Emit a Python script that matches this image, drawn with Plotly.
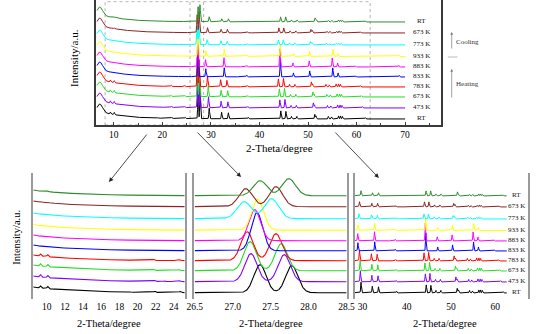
import numpy as np
import plotly.graph_objects as go

# ---------------- data ----------------
LABELS = ["RT", "473 K", "673 K", "783 K", "833 K", "883 K", "933 K", "773 K", "673 K", "RT"]
COLORS = ["#000000", "#8000FF", "#22DD22", "#FF0000", "#0000FF", "#FF00FF",
          "#FFFF00", "#00FFFF", "#8B2323", "#2E8B2E"]
OFFSETS = [6, 17, 28, 38, 48, 58, 68.5, 80, 92, 103]
FWHM = [0.19, 0.19, 0.19, 0.19, 0.18, 0.18, 0.18, 0.22, 0.21, 0.21]

# amorphous low-angle background shared by all patterns
BG_HUMP_POS, BG_HUMP_H, BG_HUMP_FWHM = 7.1, 9.0, 1.4
BG_TAIL_POS, BG_TAIL_H, BG_TAIL_HWHM = 7.0, 6.0, 5.0

POS_RT_H = [9.3, 10.1, 19.1, 21.9, 23.0, 24.7, 27.36, 27.78, 29.65, 32.2, 33.6, 37.7, 44.4, 45.45,
            46.6, 47.7, 51.4, 51.65, 54.2, 54.85, 56.3, 56.7, 57.1, 61.8]
H_RT_H = [2.0, 2.2, 0.6, 1.2, 0.6, 1.2, 28, 27, 10.5, 6.5, 6.0, 1.5, 8.0, 7.5,
          2.5, 2.5, 4.5, 3.0, 2.5, 2.0, 3.0, 3.0, 2.5, 1.2]
POS_473 = [9.3, 10.1, 21.9, 23.0, 24.6, 27.24, 27.68, 29.5, 32.1, 33.5, 37.6, 44.2, 45.25, 46.5,
           47.6, 51.1, 51.35, 54.0, 54.7, 56.1, 56.6, 57.0, 61.2]
H_473 = [2.2, 2.2, 1.0, 0.5, 1.0, 28, 27, 11, 6.5, 6, 1.3, 8, 8.5, 2.5,
         2.5, 5, 3, 2.5, 2, 3, 3, 2.5, 1.2]
POS_673_H = [9.3, 10.1, 21.8, 23.0, 24.6, 27.23, 27.64, 29.45, 32.1, 33.45, 37.6, 44.1, 45.15, 46.4,
             47.5, 51.0, 51.25, 53.9, 54.6, 56.0, 56.5, 56.9, 61.0]
H_673_H = [2.2, 2.2, 1.0, 0.6, 1.0, 29, 27, 10.5, 6.5, 6, 1.2, 8, 8.5, 2.5,
           2.5, 5, 3, 2.5, 2, 3, 3, 2.5, 1.2]
POS_783 = [9.3, 10.1, 21.8, 23.0, 24.6, 27.19, 27.57, 29.3, 32.0, 33.3, 37.5, 43.9, 44.95, 46.2,
           47.3, 50.7, 50.95, 53.7, 54.4, 55.8, 56.3, 56.7, 60.8]
H_783 = [2.0, 2.0, 1.0, 0.7, 1.0, 29, 27, 10.5, 7, 6.5, 1.2, 8, 8.5, 2.5,
         2.5, 5, 3, 2.5, 2, 3, 3, 2.5, 1.2]
POS_833 = [27.32, 28.95, 32.75, 37.4, 44.3, 47.0, 50.35, 55.1, 56.2, 59.9, 68.8]
H_833 = [38, 8, 9, 1.5, 18, 4, 6, 9, 4, 0.8, 1.5]
POS_883 = [27.29, 28.9, 32.7, 37.4, 44.2, 46.9, 50.25, 55.0, 56.1, 59.8, 68.7]
H_883 = [31, 7, 9, 1.3, 18, 4, 6, 9, 4, 0.8, 1.5]
POS_933 = [27.33, 29.0, 32.75, 37.5, 44.3, 47.0, 50.35, 55.15, 56.2, 68.8]
H_933 = [31, 5.5, 7, 1.2, 12, 3, 5, 7, 3, 1.0]
POS_773_C = [27.15, 27.51, 29.2, 32.05, 33.35, 37.6, 43.9, 44.9, 46.2, 47.3, 50.5, 50.8,
             53.8, 54.4, 55.8, 56.3, 56.8]
H_773_C = [17, 20, 5, 4, 3.5, 0.8, 5, 5, 2, 2, 3.5, 2.5, 1.5, 1.5, 1.5, 2, 1.5]
POS_673_C = [9.3, 10.1, 27.17, 27.57, 29.3, 32.1, 33.4, 37.6, 44.0, 45.0, 46.3, 47.5, 50.6, 50.9,
             53.9, 54.5, 55.9, 56.4, 56.8, 60.9]
H_673_C = [0.8, 0.8, 18, 20, 5, 3.5, 3.5, 0.8, 5, 5, 2, 2, 3.5, 2.5, 1.5, 1.5, 1.5, 2, 1.5, 0.8]
POS_RT_C = [10.1, 27.36, 27.74, 29.65, 32.25, 33.6, 37.7, 44.35, 45.4, 46.6, 47.75, 51.45, 51.7,
            54.2, 54.9, 56.3, 56.7, 57.1, 61.8]
H_RT_C = [0.6, 15, 17, 5, 3, 3, 0.7, 5, 5, 2, 2, 4, 2.5, 1.5, 1.5, 2, 2, 1.5, 0.8]

PEAK_POS = [POS_RT_H, POS_473, POS_673_H, POS_783, POS_833, POS_883, POS_933,
            POS_773_C, POS_673_C, POS_RT_C]
PEAK_H = [H_RT_H, H_473, H_673_H, H_783, H_833, H_883, H_933, H_773_C, H_673_C, H_RT_C]

TITLE_X = "2-Theta/degree"
TITLE_Y = "Intensity/a.u."

# ---------------- helpers ----------------
K = 4 * np.log(2)


def pattern(x, i):
    y = BG_HUMP_H * np.exp(-K * ((x - BG_HUMP_POS) / BG_HUMP_FWHM) ** 2)
    y += BG_TAIL_H / (1 + ((x - BG_TAIL_POS) / BG_TAIL_HWHM) ** 2)
    for p, h in zip(PEAK_POS[i], PEAK_H[i]):
        y += h * np.exp(-K * ((x - p) / FWHM[i]) ** 2)
    return y + OFFSETS[i]


W, H = 550, 334
FONT = "Liberation Serif"


def px(x0, x1):
    return [x0 / W, x1 / W]


def py(top, bottom):
    return [1 - bottom / H, 1 - top / H]


fig = go.Figure()

panels = [
    # (axis suffix, xmin, xmax, step, width)
    ("", 6.5, 70.0, 0.01, 1.0),
    ("2", 8.5, 25.2, 0.01, 1.1),
    ("3", 26.5, 28.5, 0.004, 1.1),
    ("4", 28.2, 62.6, 0.01, 1.0),
]
for suf, x0, x1, step, lw in panels:
    xs = np.arange(x0, x1 + step / 2, step)
    for i in range(len(LABELS)):
        fig.add_trace(go.Scatter(x=xs, y=pattern(xs, i), mode="lines",
                                 line=dict(color=COLORS[i], width=lw),
                                 xaxis="x" + suf, yaxis="y" + suf,
                                 showlegend=False, hoverinfo="skip"))

tickfont = dict(family=FONT, size=9.5, color="#000")
common_y = dict(showticklabels=False, ticks="", showgrid=False, zeroline=False)

layout = dict(
    width=W, height=H, margin=dict(l=0, r=0, t=0, b=0),
    paper_bgcolor="white", plot_bgcolor="white", showlegend=False,
    xaxis=dict(domain=px(91, 446), range=[6.4, 77.4], showgrid=False, zeroline=False,
               showline=True, linecolor="#3a3a3a", linewidth=1.6, mirror=False,
               ticks="inside", ticklen=3, tickcolor="#3a3a3a", dtick=10, tick0=0,
               minor=dict(ticks="inside", dtick=5, ticklen=2, tickcolor="#3a3a3a"),
               tickfont=tickfont, anchor="y"),
    yaxis=dict(domain=py(0, 125), range=[0, 125], showline=True, linecolor="#3a3a3a",
               linewidth=1.6, mirror=True, anchor="x", **common_y),
)
bottom = [("2", (26, 182), [8.5, 25.2], 2, None),
          ("3", (192, 349), [26.495, 28.505], 0.5, ".1f"),
          ("4", (357, 536), [28.2, 67.5], 10, None)]
for suf, (a, b), rng, dt, fmt in bottom:
    xa = dict(domain=px(a, b), range=rng, showgrid=False, zeroline=False, showline=False,
              ticks="", dtick=dt, tick0=0, tickfont=tickfont, anchor="y" + suf)
    if fmt:
        xa["tickformat"] = fmt
    layout["xaxis" + suf] = xa
    layout["yaxis" + suf] = dict(domain=py(173, 299), range=[0, 126], showline=True,
                                 linecolor="#9a9a9a", linewidth=1.8, mirror=True,
                                 anchor="x" + suf, **common_y)
fig.update_layout(**layout)

# dotted zoom boxes in the top plot
for xa, xb in [(8.2, 62.8)]:
    fig.add_shape(type="rect", xref="x", yref="y", x0=xa, x1=xb, y0=0, y1=123.3,
                  line=dict(color="#a0a0a0", width=0.8, dash="dot"), layer="below")
for xv in [25.7, 28.5]:
    fig.add_shape(type="line", xref="x", yref="y", x0=xv, x1=xv, y0=0, y1=123.3,
                  line=dict(color="#a0a0a0", width=0.8, dash="dot"), layer="below")

ann = []
lab_font = dict(family=FONT, size=7, color="#111")
for i, lab in enumerate(LABELS):
    ann.append(dict(x=73.4, y=OFFSETS[i] + 1, xref="x", yref="y", text=lab,
                    showarrow=False, font=lab_font, xanchor="center", yanchor="middle"))
    ann.append(dict(x=64.9, y=OFFSETS[i] + 1, xref="x4", yref="y4", text=lab,
                    showarrow=False, font=lab_font, xanchor="center", yanchor="middle"))


def pp(x, y):
    return x / W, 1 - y / H


title_font = dict(family=FONT, size=11, color="#000")
title_font_b = dict(family=FONT, size=10.5, color="#000")
for (x, y), t, f, ang in [((280, 148), TITLE_X, title_font, 0),
                          ((68, 58), TITLE_Y, title_font, -90),
                          ((8, 237), TITLE_Y, title_font_b, -90),
                          ((104, 323), TITLE_X, title_font_b, 0),
                          ((271, 323), TITLE_X, title_font_b, 0),
                          ((450, 323), TITLE_X, title_font_b, 0)]:
    xx, yy = pp(x, y)
    ann.append(dict(x=xx, y=yy, xref="paper", yref="paper", text=t, showarrow=False,
                    font=f, textangle=ang, xanchor="center", yanchor="middle"))

# zoom arrows
for (hx, hy), (tx, ty) in [((104, 182), (143, 133)), ((240, 177), (195, 131)),
                           ((382, 178), (337, 131))]:
    xx, yy = pp(hx, hy)
    ann.append(dict(x=xx, y=yy, xref="paper", yref="paper", text="", showarrow=True,
                    ax=tx - hx, ay=ty - hy, arrowhead=2, arrowsize=1.1, arrowwidth=0.8,
                    arrowcolor="#222", standoff=0))

# heating / cooling arrows
for (hx, hy), (tx, ty) in [((457, 32), (457, 50)), ((457, 69), (457, 99))]:
    xx, yy = pp(hx, hy)
    ann.append(dict(x=xx, y=yy, xref="paper", yref="paper", text="", showarrow=True,
                    ax=tx - hx, ay=ty - hy, arrowhead=2, arrowsize=0.8, arrowwidth=0.7,
                    arrowcolor="#777", standoff=0))
for (x, y), t in [((459, 42), "Cooling"), ((459, 84), "Heating")]:
    xx, yy = pp(x, y)
    ann.append(dict(x=xx, y=yy, xref="paper", yref="paper", text=t, showarrow=False,
                    font=dict(family=FONT, size=7, color="#333"), xanchor="left",
                    yanchor="middle"))
fig.update_layout(annotations=ann)
x0, y0 = pp(453, 57)
x1, _ = pp(463, 57)
fig.add_shape(type="line", xref="paper", yref="paper", x0=x0, x1=x1, y0=y0, y1=y0,
              line=dict(color="#aaaaaa", width=0.8))

fig.write_html("out.html", config={"displayModeBar": False},
               post_script="document.body.style.margin='0px';"
                           "document.documentElement.style.overflow='hidden';")
